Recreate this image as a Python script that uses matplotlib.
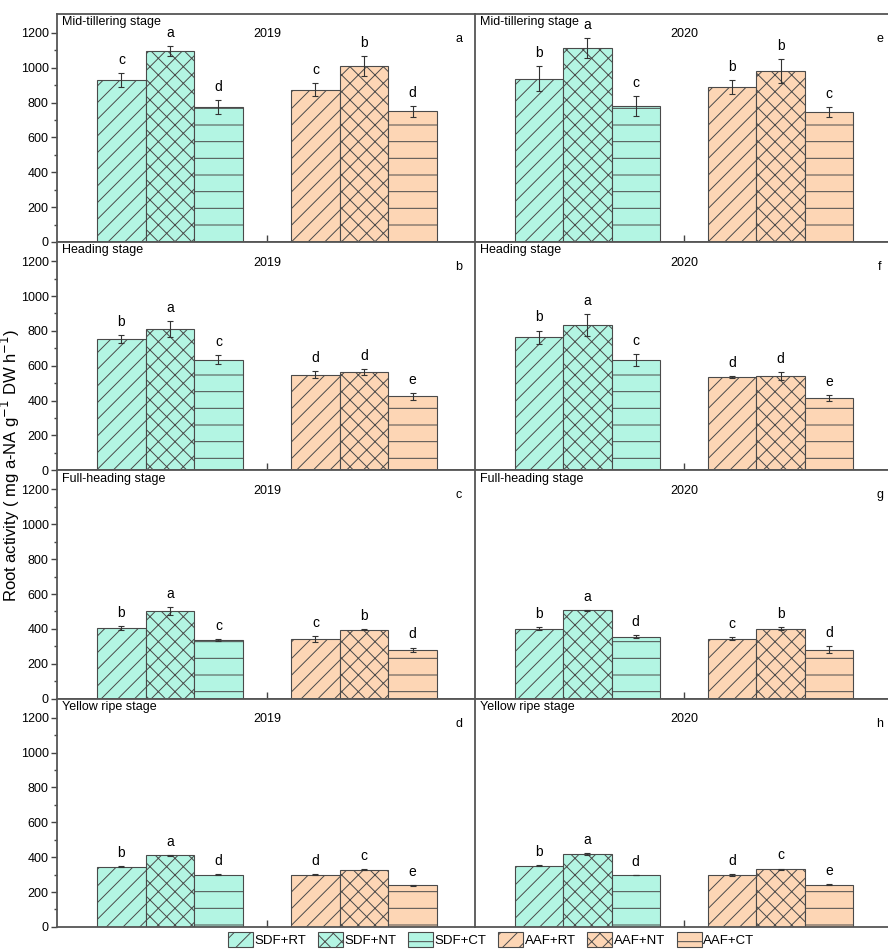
import numpy as np
import matplotlib
matplotlib.use('Agg')
import matplotlib.pyplot as plt
from matplotlib.patches import Patch

plt.rcParams['font.family'] = ['Liberation Sans Narrow', 'Liberation Sans', 'DejaVu Sans']
plt.rcParams['hatch.linewidth'] = 0.7

# treatments in drawing order
treatments = ['SDF+RT', 'SDF+NT', 'SDF+CT', 'AAF+RT', 'AAF+NT', 'AAF+CT']
stages = ['Mid-tillering stage', 'Heading stage', 'Full-heading stage', 'Yellow ripe stage']
years = ['2019', '2020']
panel_tags = [['a', 'e'], ['b', 'f'], ['c', 'g'], ['d', 'h']]

# root activity means, [stage][year][treatment]
mid_2019 = [928, 1096, 777, 875, 1010, 750]
mid_2020 = [937, 1114, 782, 890, 980, 746]
head_2019 = [754, 811, 635, 547, 564, 425]
head_2020 = [763, 834, 631, 536, 541, 417]
full_2019 = [406, 501, 337, 343, 396, 280]
full_2020 = [402, 507, 356, 343, 402, 281]
yel_2019 = [346, 411, 300, 298, 328, 238]
yel_2020 = [352, 419, 297, 298, 331, 241]

mid_2019_err = [40, 27, 40, 35, 55, 30]
mid_2020_err = [73, 59, 57, 38, 69, 31]
head_2019_err = [21, 48, 27, 20, 17, 19]
head_2020_err = [39, 61, 35, 5, 22, 17]
full_2019_err = [13, 23, 5, 17, 3, 13]
full_2020_err = [6, 3, 10, 8, 6, 20]
yel_2019_err = [4, 4, 3, 3, 4, 4]
yel_2020_err = [3, 4, 2, 4, 4, 3]

mid_2019_sig = ['c', 'a', 'd', 'c', 'b', 'd']
mid_2020_sig = ['b', 'a', 'c', 'b', 'b', 'c']
head_2019_sig = ['b', 'a', 'c', 'd', 'd', 'e']
head_2020_sig = ['b', 'a', 'c', 'd', 'd', 'e']
full_2019_sig = ['b', 'a', 'c', 'c', 'b', 'd']
full_2020_sig = ['b', 'a', 'd', 'c', 'b', 'd']
yel_2019_sig = ['b', 'a', 'd', 'd', 'c', 'e']
yel_2020_sig = ['b', 'a', 'd', 'd', 'c', 'e']

means = [[mid_2019, mid_2020], [head_2019, head_2020], [full_2019, full_2020], [yel_2019, yel_2020]]
errs = [[mid_2019_err, mid_2020_err], [head_2019_err, head_2020_err],
        [full_2019_err, full_2020_err], [yel_2019_err, yel_2020_err]]
sigs = [[mid_2019_sig, mid_2020_sig], [head_2019_sig, head_2020_sig],
        [full_2019_sig, full_2020_sig], [yel_2019_sig, yel_2020_sig]]

teal = '#b3f5e3'
peach = '#fdd6b5'
colors = [teal, teal, teal, peach, peach, peach]
hatches = ['//', 'xx', '-', '//', 'xx', '-']
edge = '#4a4a4a'

w = 0.25
xpos = [1 - w, 1, 1 + w, 2 - w, 2, 2 + w]

fig = plt.figure(figsize=(8.88, 9.5), dpi=100)

lefts = [57 / 888, 475 / 888]
widths = [418 / 888, 416 / 888]
row_h = 228.3

for r in range(4):
    bottom = 1 - (242 + row_h * r) / 950
    for c in range(2):
        ax = fig.add_axes([lefts[c], bottom, widths[c], row_h / 950])
        m = means[r][c]
        e = errs[r][c]
        for i in range(6):
            ax.bar(xpos[i], m[i], width=w, color=colors[i], edgecolor=edge,
                   hatch=hatches[i], linewidth=0.8)
        ax.errorbar(xpos, m, yerr=e, fmt='none', ecolor='#333333',
                    elinewidth=0.8, capsize=2.5, capthick=0.8)
        for i in range(6):
            ax.text(xpos[i], m[i] + e[i] + 75, sigs[r][c][i], ha='center',
                    va='center', fontsize=10)
        ax.set_xlim(0.418, 2.572)
        ax.set_ylim(0, 1310)
        ax.set_xticks([1.5])
        ax.set_xticklabels([])
        ax.tick_params(axis='x', direction='in', length=5, width=1, color='#444444')
        ax.set_yticks(np.arange(0, 1201, 200))
        ax.set_yticks(np.arange(100, 1300, 200), minor=True)
        if c == 0:
            ax.tick_params(axis='y', which='major', direction='out', length=4,
                           width=1, labelsize=9, pad=2, color='#444444')
            ax.tick_params(axis='y', which='minor', direction='out', length=2.5,
                           width=1, color='#444444')
        else:
            ax.tick_params(axis='y', which='both', left=False, labelleft=False)
        for s in ax.spines.values():
            s.set_color('#555555')
            s.set_linewidth(1.3)
        ax.spines['right'].set_visible(False)
        ax.text(0.013, 0.99, stages[r], transform=ax.transAxes, ha='left',
                va='top', fontsize=9)
        ax.text(1.5, 0.91, years[c], transform=ax.get_xaxis_transform(),
                ha='center', va='center', fontsize=9)
        ax.text(0.962 if c == 0 else 0.973, 0.89, panel_tags[r][c],
                transform=ax.transAxes, ha='center', va='center', fontsize=9)

fig.text(0.012, 0.51, 'Root activity ( mg a-NA g$^{-1}$ DW h$^{-1}$)',
         rotation=90, ha='center', va='center', fontsize=12)

handles = [Patch(facecolor=colors[i], edgecolor=edge, hatch=hatches[i], linewidth=0.8)
           for i in range(6)]
fig.legend(handles, treatments, loc='center', bbox_to_anchor=(0.553, 0.011), ncol=6,
           frameon=False, fontsize=9.5, handlelength=1.9, handleheight=1.3,
           handletextpad=0.1, columnspacing=0.9, borderaxespad=0)

fig.savefig('out.png', dpi=100)
